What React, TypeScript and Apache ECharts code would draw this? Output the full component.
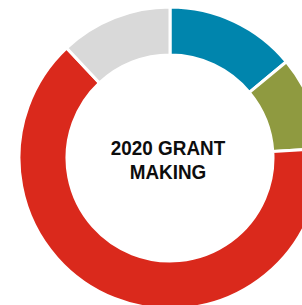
import React, { useEffect, useRef } from "react";
import * as echarts from "echarts";

const categories = ["Blue", "Olive", "Red", "Gray"];
const values = [14, 10, 64, 12];
const colors = ["#0085AD", "#8F9A40", "#DA291C", "#D9D9D9"];
const centerLines = ["2020 GRANT", "MAKING"];

export default function App() {
  const ref = useRef<HTMLDivElement>(null);
  useEffect(() => {
    if (!ref.current) return;
    const chart = echarts.init(ref.current, undefined, { renderer: "svg" });
    chart.setOption({
      animation: false,
      series: [
        {
          type: "pie",
          center: [170, 158],
          radius: [103, 151],
          startAngle: 90,
          clockwise: true,
          label: { show: false },
          labelLine: { show: false },
          emphasis: { disabled: true },
          itemStyle: { borderColor: "#ffffff", borderWidth: 3 },
          data: categories.map((c, i) => ({
            name: c,
            value: values[i],
            itemStyle: { color: colors[i] },
          })),
        },
      ],
      graphic: [
        {
          type: "text",
          x: 168,
          y: 160,
          scaleX: 0.9,
          style: {
            text: centerLines.join("\n"),
            fontFamily: "'Liberation Sans', Arial, sans-serif",
            fontWeight: "bold",
            fontSize: 21,
            lineHeight: 24,
            fill: "#0d0d0d",
            align: "center",
            verticalAlign: "middle",
          },
        },
      ],
    });
    return () => chart.dispose();
  }, []);
  return (
    <div
      ref={ref}
      style={{ position: "fixed", left: 0, top: 0, width: 302, height: 305, background: "#ffffff" }}
    />
  );
}
